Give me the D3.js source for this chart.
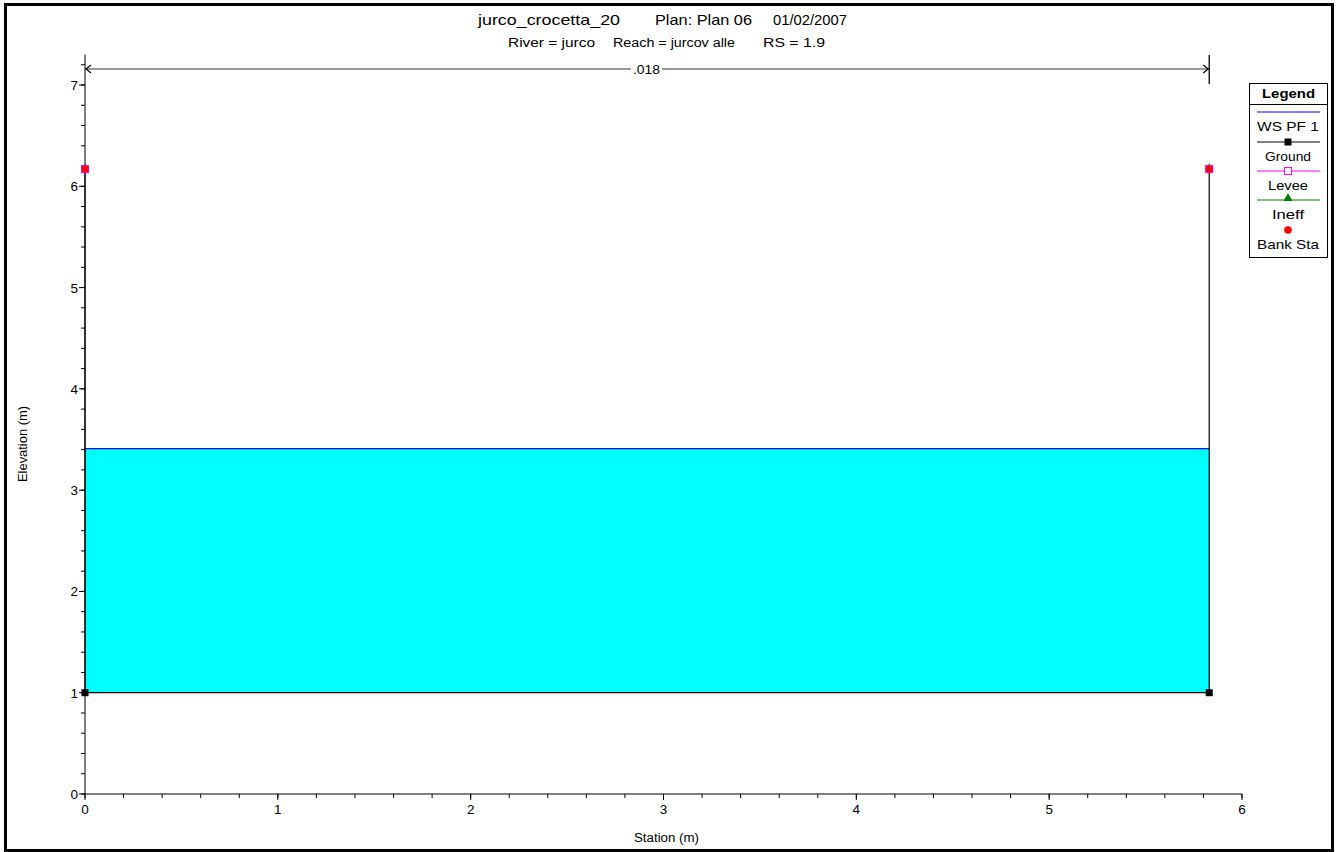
<!DOCTYPE html>
<html><head><meta charset="utf-8">
<script src="https://cdn.jsdelivr.net/npm/d3@7"></script>
<style>body{margin:0;background:#fff}svg{display:block}text{font-family:"Liberation Sans",Arial,sans-serif}</style>
</head><body>
<script>
const station = [0, 0, 5.83, 5.83];
const groundElev = [6.17, 1, 1, 6.17];
const wsElev = 3.41;
const bankSta = [0, 5.83];
const bankElev = [6.17, 6.17];
const manningN = [".018"];
const xTicks = [0,1,2,3,4,5,6];
const yTicks = [0,1,2,3,4,5,6,7];
const titleParts = ["jurco_crocetta_20","Plan: Plan 06","01/02/2007"];
const subtitleParts = ["River = jurco","Reach = jurcov alle","RS = 1.9"];
const legendItems = ["WS PF 1","Ground","Levee","Ineff","Bank Sta"];

const W=1339,H=852;
const svg=d3.select("body").append("svg").attr("width",W).attr("height",H);
svg.append("rect").attr("x",5.5).attr("y",4.5).attr("width",1327).attr("height",846).attr("fill","none").attr("stroke","#000").attr("stroke-width",3);

const x=d3.scaleLinear().domain([0,6]).range([85,1242]);
const y=d3.scaleLinear().domain([0,7]).range([794,85]);
const yTop=y(7.3);

// titles
const tPos=[[478,142],[655,97],[773,74]];
titleParts.forEach((t,i)=>svg.append("text").attr("x",tPos[i][0]).attr("y",25).attr("font-size",14.5)
  .attr("textLength",tPos[i][1]).attr("lengthAdjust","spacingAndGlyphs").text(t));
const sPos=[[508,87],[613,122],[763,62]];
subtitleParts.forEach((t,i)=>svg.append("text").attr("x",sPos[i][0]).attr("y",47).attr("font-size",12.5)
  .attr("textLength",sPos[i][1]).attr("lengthAdjust","spacingAndGlyphs").text(t));

// water fill
const pts=station.map((s,i)=>({s,e:groundElev[i]})).filter(d=>d.e<=wsElev);
svg.append("path").datum(pts).attr("fill","#00ffff")
  .attr("d",d3.area().x(d=>x(d.s)).y0(y(wsElev)).y1(d=>y(d.e)));
svg.append("line").attr("x1",x(pts[0].s)).attr("x2",x(pts[pts.length-1].s))
  .attr("y1",y(wsElev)).attr("y2",y(wsElev)).attr("stroke","#0000ff").attr("stroke-width",1.2);

// axes
const xMinor=d3.range(0,6.001,0.2), yMinor=d3.range(0,7.301,0.2);
const ax=svg.append("g");
ax.append("line").attr("x1",x(0)).attr("x2",x(6)).attr("y1",y(0)).attr("y2",y(0)).attr("stroke","#000");
ax.append("line").attr("x1",x(0)).attr("x2",x(0)).attr("y1",y(0)).attr("y2",yTop).attr("stroke","#000");
ax.selectAll(".xm").data(xMinor).join("line").attr("x1",d=>x(d)).attr("x2",d=>x(d)).attr("y1",y(0)).attr("y2",y(0)+4).attr("stroke","#000");
ax.selectAll(".xM").data(xTicks).join("line").attr("x1",d=>x(d)).attr("x2",d=>x(d)).attr("y1",y(0)).attr("y2",y(0)+6).attr("stroke","#000");
ax.selectAll(".ym").data(yMinor).join("line").attr("x1",x(0)-4).attr("x2",x(0)).attr("y1",d=>y(d)).attr("y2",d=>y(d)).attr("stroke","#000");
ax.selectAll(".yM").data(yTicks).join("line").attr("x1",x(0)-6).attr("x2",x(0)).attr("y1",d=>y(d)).attr("y2",d=>y(d)).attr("stroke","#000");
ax.selectAll(".xl").data(xTicks).join("text").attr("x",d=>x(d)).attr("y",y(0)+20).attr("text-anchor","middle").attr("font-size",13.5).text(d=>d);
ax.selectAll(".yl").data(yTicks).join("text").attr("x",x(0)-7).attr("y",d=>y(d)+5).attr("text-anchor","end").attr("font-size",13.5).text(d=>d);
svg.append("text").attr("x",634).attr("y",842).attr("font-size",12.5).attr("textLength",65).attr("lengthAdjust","spacingAndGlyphs").text("Station (m)");
svg.append("text").attr("transform","translate(27,482) rotate(-90)").attr("font-size",12.5).attr("textLength",76).attr("lengthAdjust","spacingAndGlyphs").text("Elevation (m)");

// ground
svg.append("path").datum(station.map((s,i)=>[s,groundElev[i]])).attr("fill","none").attr("stroke","#000").attr("stroke-width",1.2)
  .attr("d",d3.line().x(d=>x(d[0])).y(d=>y(d[1])));
svg.selectAll(".gm").data(station.map((s,i)=>[s,groundElev[i]])).join("rect")
  .attr("x",d=>x(d[0])-3.5).attr("y",d=>y(d[1])-3.5).attr("width",7).attr("height",7).attr("fill","#000");

// levee / ineff / bank markers
const tops=bankSta.map((s,i)=>[s,bankElev[i]]);
svg.selectAll(".in").data(tops).join("path").attr("fill","#008000")
  .attr("d",d=>`M${x(d[0])},${y(d[1])-6}l4,9l-8,0z`);
svg.selectAll(".lv").data(tops).join("rect").attr("x",d=>x(d[0])-4).attr("y",d=>y(d[1])-4).attr("width",8).attr("height",8).attr("fill","#ff00ff");
svg.selectAll(".bs").data(tops).join("circle").attr("cx",d=>x(d[0])).attr("cy",d=>y(d[1])).attr("r",3.5).attr("fill","#ff0000");

// manning n bar
const ny=69;
svg.append("line").attr("x1",x(0)).attr("x2",x(5.83)).attr("y1",ny).attr("y2",ny).attr("stroke","#333");
svg.append("line").attr("x1",x(5.83)).attr("x2",x(5.83)).attr("y1",55).attr("y2",84).attr("stroke","#000").attr("stroke-width",1.3);
svg.append("path").attr("fill","none").attr("stroke","#000").attr("stroke-width",1.2)
  .attr("d",`M${x(0)+6},${ny-4}L${x(0)+1},${ny}L${x(0)+6},${ny+4}M${x(5.83)-6},${ny-4}L${x(5.83)-1},${ny}L${x(5.83)-6},${ny+4}`);
svg.append("rect").attr("x",631).attr("y",ny-8).attr("width",31).attr("height",16).attr("fill","#fff");
svg.append("text").attr("x",633).attr("y",ny+5).attr("font-size",13).attr("textLength",27).attr("lengthAdjust","spacingAndGlyphs").text(manningN[0]);

// legend
const lg=svg.append("g").attr("transform","translate(1249,83)");
lg.append("rect").attr("x",0.5).attr("y",0.5).attr("width",78).attr("height",174).attr("fill","#fff").attr("stroke","#000");
lg.append("text").attr("x",13).attr("y",15).attr("font-size",13).attr("font-weight","bold").attr("textLength",53).attr("lengthAdjust","spacingAndGlyphs").text("Legend");
lg.append("line").attr("x1",0).attr("x2",79).attr("y1",21.5).attr("y2",21.5).attr("stroke","#000");
const ly=[29,59,88,117,147];
const lw=[62,46,40,32,62];
legendItems.forEach((t,i)=>{
  lg.append("text").attr("x",39-lw[i]/2).attr("y",ly[i]+19).attr("font-size",13).attr("textLength",lw[i]).attr("lengthAdjust","spacingAndGlyphs").text(t);
});
lg.append("line").attr("x1",8).attr("x2",71).attr("y1",ly[0]).attr("y2",ly[0]).attr("stroke","#0000ff");
lg.append("line").attr("x1",8).attr("x2",71).attr("y1",ly[1]).attr("y2",ly[1]).attr("stroke","#000");
lg.append("rect").attr("x",35.5).attr("y",ly[1]-3.5).attr("width",7).attr("height",7).attr("fill","#000");
lg.append("line").attr("x1",8).attr("x2",71).attr("y1",ly[2]).attr("y2",ly[2]).attr("stroke","#ff00ff");
lg.append("rect").attr("x",35.5).attr("y",ly[2]-3.5).attr("width",7).attr("height",7).attr("fill","#fff").attr("stroke","#ff00ff");
lg.append("line").attr("x1",8).attr("x2",71).attr("y1",ly[3]).attr("y2",ly[3]).attr("stroke","#008000");
lg.append("path").attr("fill","#008000").attr("d",`M39,${ly[3]-7}l4.5,8l-9,0z`);
lg.append("circle").attr("cx",39).attr("cy",ly[4]).attr("r",3.8).attr("fill","#ff0000");
</script>
</body></html>
